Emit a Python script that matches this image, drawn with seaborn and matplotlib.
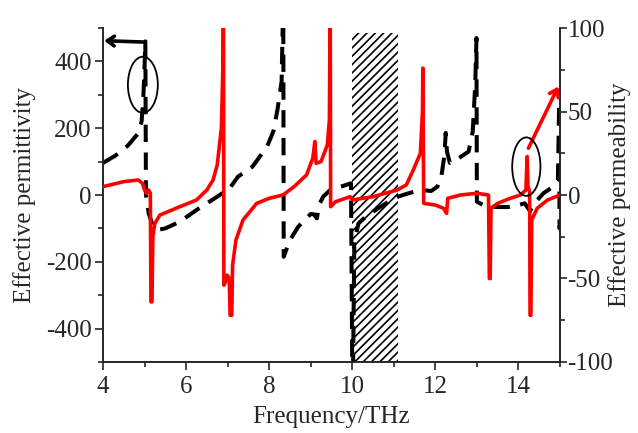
import matplotlib
matplotlib.use("Agg")
import numpy as np
import pandas as pd
import matplotlib.pyplot as plt
import seaborn as sns
from matplotlib.patches import Ellipse
from matplotlib.ticker import MultipleLocator

# permittivity (left axis), black dashed
freq_eps = [4.0, 4.3, 4.6, 4.85, 4.93, 4.97, 5.0, 5.02, 5.035, 5.1, 5.2, 5.3, 5.5,
            5.85, 6.25, 6.75, 7.05, 7.25, 7.6, 7.95, 8.1, 8.2, 8.3, 8.34, 8.35,
            8.5, 8.7, 8.85, 9.0, 9.08, 9.15, 9.2, 9.3, 9.47, 9.6, 9.8, 9.97,
            10.0, 10.02, 10.05, 10.15, 10.35, 10.5, 10.85, 11.1, 11.35, 11.65,
            11.9, 12.05, 12.15, 12.22, 12.25, 12.28, 12.35, 12.5, 12.8, 12.9,
            12.96, 12.99, 13.0, 13.2, 13.5, 13.75, 14.0, 14.15, 14.28, 14.35,
            14.6, 14.8, 14.95, 14.98, 14.99, 15.0]
eps = [96, 118, 148, 185, 220, 290, 380, 460, 0, -55, -92, -105, -100,
       -80, -45, -5, 20, 55, 85, 145, 190, 255, 340, 600, -185,
       -135, -95, -75, -57, -58, -70, -30, -5, 15, 20, 28, 35,
       -520, -520, -140, -85, -62, -50, -22, -5, 5, 15,
       12, 25, 60, 120, 186, 130, 96, 105, 130, 190,
       330, 470, -20, -33, -36, -36, -30, -25, -48, -30,
       5, 22, 45, 276, -100, -90]

# permeability (right axis), red solid
freq_mu = [4.0, 4.5, 4.85, 4.95, 5.0, 5.05, 5.1, 5.14, 5.155, 5.18, 5.2, 5.25,
           5.37, 5.85, 6.25, 6.5, 6.65, 6.75, 6.85, 6.89, 6.9, 6.91, 6.95, 6.99,
           7.04, 7.06, 7.1, 7.12, 7.2, 7.37, 7.7, 8.0, 8.33, 8.36, 8.6, 8.9,
           9.05, 9.1, 9.13, 9.25, 9.4, 9.45, 9.47, 9.48, 9.6, 9.95, 10.0, 10.5,
           11.08, 11.3, 11.47, 11.64, 11.69, 11.7, 11.72, 12.0, 12.2, 12.27,
           12.3, 12.6, 13.0, 13.28, 13.3, 13.32, 13.34, 13.5, 13.8, 14.05,
           14.18, 14.21, 14.23, 14.27, 14.28, 14.3, 14.32, 14.45, 14.7, 15.0]
mu = [5, 8, 9, 7, 3, 1, 3, 1, -64, -64, -25, -17,
      -12, -7, -3, 3, 9, 18, 40, 80, 120, -54, -52, -48,
      -50, -72, -72, -42, -27, -15, -5, -2, 0, 0.5, 5, 12,
      22, 32, 19, 20, 30, 45, 120, -7, -4, -1, -3, -1,
      3, 6, 15, 25, 50, 76, -5, -6, -8, -11,
      -2, 0, 1, 0, -50, -50, -8, -5, -2, 0,
      3, 23, 5, 2, -72, -72, -15, -8, -3, 0]

band = [10.0, 11.1]

sns.set_style("ticks")
plt.rcParams['font.family'] = ['Liberation Serif', 'DejaVu Serif']
plt.rcParams['axes.unicode_minus'] = False
plt.rcParams['hatch.linewidth'] = 1.2

fig = plt.figure(figsize=(6.38, 4.33), dpi=100)
ax = fig.add_axes([0.1614, 0.164, 0.7163, 0.7713])
ax2 = ax.twinx()

ax.fill_between(band, -500, 485, hatch='////', facecolor='white',
                edgecolor='black', linewidth=0, zorder=1)

df_eps = pd.DataFrame({'f': freq_eps, 'v': eps})
sns.lineplot(data=df_eps, x='f', y='v', ax=ax, color='black', lw=2.9,
             estimator=None, sort=False, zorder=3)
ax.lines[-1].set_linestyle((0, (4.3, 2.6)))

df_mu = pd.DataFrame({'f': freq_mu, 'v': mu})
sns.lineplot(data=df_mu, x='f', y='v', ax=ax2, color='red', lw=2.6,
             estimator=None, sort=False, zorder=3)
ax2.lines[-1].set_solid_joinstyle('round')

ax.add_patch(Ellipse((4.96, 330), 0.72, 168, fill=False, ec='black', lw=1.3, zorder=5))
ax2.add_patch(Ellipse((14.19, 17), 0.68, 35, fill=False, ec='black', lw=1.3, zorder=5))

ax.annotate('', xy=(4.03, 462), xytext=(4.98, 458), annotation_clip=False,
            arrowprops=dict(arrowstyle='->,head_length=0.5,head_width=0.35',
                            lw=2.6, color='black', shrinkA=0, shrinkB=0))
ax2.annotate('', xy=(14.96, 65), xytext=(14.24, 28), annotation_clip=False,
             arrowprops=dict(arrowstyle='->,head_length=0.5,head_width=0.35',
                             lw=2.6, color='red', shrinkA=0, shrinkB=0))

ax.set_xlim(4, 15)
ax.set_ylim(-500, 500)
ax2.set_ylim(-100, 100)
ax.xaxis.set_major_locator(MultipleLocator(2))
ax.xaxis.set_minor_locator(MultipleLocator(1))
ax.yaxis.set_major_locator(MultipleLocator(200))
ax.yaxis.set_minor_locator(MultipleLocator(100))
ax2.yaxis.set_major_locator(MultipleLocator(50))
ax2.yaxis.set_minor_locator(MultipleLocator(25))

for a in (ax, ax2):
    a.spines['top'].set_visible(False)
    for s in a.spines.values():
        s.set_linewidth(1.2)
    a.tick_params(which='major', direction='out', length=6, width=1.2, labelsize=18, pad=2)
    a.tick_params(which='minor', direction='out', length=3.5, width=1.2)
    a.grid(False)
ax.tick_params(axis='x', which='major', pad=4)
ax2.tick_params(axis='y', which='major', length=5, pad=0.5)

ax.set_xlabel('Frequency/THz', fontsize=18, labelpad=6)
ax.set_ylabel('Effective permittivity', fontsize=18, labelpad=7)
ax2.set_ylabel('Effective permeability', fontsize=18, labelpad=-4)

fig.savefig('out.png', dpi=100)
